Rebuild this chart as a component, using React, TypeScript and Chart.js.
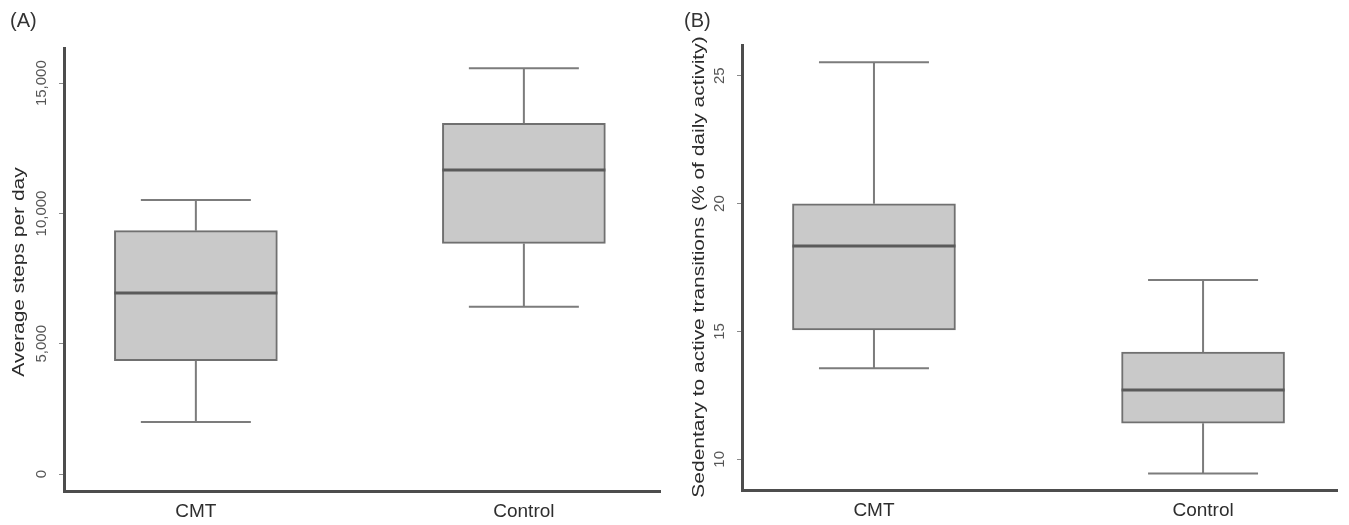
import React, { useEffect, useRef } from 'react';
import { Chart, registerables } from 'chart.js';

Chart.register(...registerables);

// ---------- data ----------
const categories = ['CMT', 'Control'];
const categoryPositions = [1, 2];

// Panel A: average steps per day
const stepsMin = [2000, 6420];
const stepsQ1 = [4350, 8850];
const stepsMedian = [6950, 11670];
const stepsQ3 = [9340, 13460];
const stepsMax = [10520, 15570];
const stepsTicks = [0, 5000, 10000, 15000];
const stepsTickLabels = ['0', '5,000', '10,000', '15,000'];

// Panel B: sedentary to active transitions (%)
const transMin = [13.56, 9.45];
const transQ1 = [15.06, 11.41];
const transMedian = [18.34, 12.71];
const transQ3 = [19.99, 14.19];
const transMax = [25.53, 17.01];
const transTicks = [10, 15, 20, 25];
const transTickLabels = ['10', '15', '20', '25'];

// ---------- styles ----------
const FONT = '"Liberation Sans", Arial, sans-serif';
const BOX_FILL = '#c9c9c9';
const BOX_BORDER = '#707070';
const MEDIAN_COLOR = '#5a5a5a';
const WHISKER_COLOR = '#7c7c7c';
const AXIS_COLOR = '#4d4d4d';
const BOX_PX = 163;
const CAP_HALF_PX = 55;
const TITLE_STRETCH = 1.31;

const whiskerPlugin = {
  id: 'boxWhiskers',
  afterDatasetsDraw(chart: any, _args: any, opts: any) {
    const { ctx, scales } = chart;
    const x = scales.x;
    const y = scales.y;
    if (!opts || !opts.mins) return;
    ctx.save();
    ctx.lineCap = 'butt';
    for (let i = 0; i < opts.positions.length; i++) {
      const cx = x.getPixelForValue(opts.positions[i]);
      const yMin = y.getPixelForValue(opts.mins[i]);
      const yQ1 = y.getPixelForValue(opts.q1s[i]);
      const yMed = y.getPixelForValue(opts.medians[i]);
      const yQ3 = y.getPixelForValue(opts.q3s[i]);
      const yMax = y.getPixelForValue(opts.maxs[i]);
      ctx.strokeStyle = WHISKER_COLOR;
      ctx.lineWidth = 2;
      ctx.beginPath();
      ctx.moveTo(cx, yQ3);
      ctx.lineTo(cx, yMax);
      ctx.moveTo(cx, yQ1);
      ctx.lineTo(cx, yMin);
      ctx.moveTo(cx - CAP_HALF_PX, yMax);
      ctx.lineTo(cx + CAP_HALF_PX, yMax);
      ctx.moveTo(cx - CAP_HALF_PX, yMin);
      ctx.lineTo(cx + CAP_HALF_PX, yMin);
      ctx.stroke();
      ctx.strokeStyle = MEDIAN_COLOR;
      ctx.lineWidth = 3;
      ctx.beginPath();
      ctx.moveTo(cx - BOX_PX / 2, yMed);
      ctx.lineTo(cx + BOX_PX / 2, yMed);
      ctx.stroke();
    }
    ctx.restore();
  },
};

const yTitlePlugin = {
  id: 'yTitle',
  afterDraw(chart: any, _args: any, opts: any) {
    if (!opts || !opts.text) return;
    const { ctx } = chart;
    ctx.save();
    ctx.translate(opts.x, opts.y);
    ctx.rotate(-Math.PI / 2);
    ctx.scale(TITLE_STRETCH, 1);
    ctx.font = `16px ${FONT}`;
    ctx.fillStyle = '#2b2b2b';
    ctx.textAlign = 'center';
    ctx.textBaseline = 'middle';
    ctx.fillText(opts.text, 0, 0);
    ctx.restore();
  },
};

type PanelProps = {
  left: number;
  width: number;
  label: string;
  labelLeft: number;
  yTitle: string;
  titleX: number;
  titleY: number;
  mins: number[];
  q1s: number[];
  medians: number[];
  q3s: number[];
  maxs: number[];
  yMin: number;
  yMax: number;
  yTicks: number[];
  yTickLabels: string[];
  axisWidth: number;
  tickPadding: number;
  padTop: number;
  padRight: number;
  xAxisHeight: number;
  xMin: number;
  xMax: number;
};

function Panel(p: PanelProps) {
  const ref = useRef<HTMLCanvasElement | null>(null);
  useEffect(() => {
    if (!ref.current) return;
    const chart = new Chart(ref.current, {
      type: 'bar',
      data: {
        datasets: [
          {
            data: categoryPositions.map((pos, i) => ({ x: pos, y: [p.q1s[i], p.q3s[i]] })) as any,
            backgroundColor: BOX_FILL,
            borderColor: BOX_BORDER,
            borderWidth: 2,
            borderSkipped: false,
            barThickness: BOX_PX,
            grouped: false,
          } as any,
        ],
      },
      options: {
        animation: false,
        responsive: false,
        events: [],
        layout: { padding: { left: 0, top: p.padTop, right: p.padRight, bottom: 0 } },
        plugins: {
          legend: { display: false },
          tooltip: { enabled: false },
          boxWhiskers: {
            positions: categoryPositions,
            mins: p.mins,
            q1s: p.q1s,
            medians: p.medians,
            q3s: p.q3s,
            maxs: p.maxs,
          },
          yTitle: { text: p.yTitle, x: p.titleX, y: p.titleY },
        } as any,
        scales: {
          x: {
            type: 'linear',
            offset: false,
            min: p.xMin,
            max: p.xMax,
            afterBuildTicks: (scale: any) => {
              scale.ticks = categoryPositions.map((v) => ({ value: v }));
            },
            afterFit: (scale: any) => {
              scale.height = p.xAxisHeight;
            },
            ticks: {
              callback: (v: any) => categories[categoryPositions.indexOf(Number(v))] ?? '',
              font: { family: FONT, size: 19 },
              color: '#2e2e2e',
              padding: 9,
              maxRotation: 0,
              minRotation: 0,
            },
            grid: { display: true, offset: false, drawOnChartArea: false, drawTicks: false },
            border: { display: true, color: AXIS_COLOR, width: 3 },
          },
          y: {
            type: 'linear',
            min: p.yMin,
            max: p.yMax,
            afterBuildTicks: (scale: any) => {
              scale.ticks = p.yTicks.map((v) => ({ value: v }));
            },
            afterFit: (scale: any) => {
              scale.width = p.axisWidth;
            },
            ticks: {
              callback: (v: any) => p.yTickLabels[p.yTicks.indexOf(Number(v))] ?? '',
              font: { family: FONT, size: 15 },
              color: '#555555',
              minRotation: 90,
              maxRotation: 90,
              crossAlign: 'center',
              padding: p.tickPadding,
            },
            grid: {
              display: true,
              drawOnChartArea: false,
              drawTicks: true,
              tickLength: 5,
              color: '#8a8a8a',
              lineWidth: 1,
            },
            border: { display: true, color: AXIS_COLOR, width: 3 },
          },
        },
      } as any,
      plugins: [whiskerPlugin, yTitlePlugin],
    });
    return () => chart.destroy();
  }, []);

  return (
    <div style={{ position: 'absolute', left: p.left, top: 0, width: p.width, height: 525 }}>
      <canvas ref={ref} width={p.width} height={525} style={{ width: p.width, height: 525, display: 'block' }} />
      <div
        style={{
          position: 'absolute',
          left: p.labelLeft,
          top: 9,
          font: `20px ${FONT}`,
          lineHeight: '22px',
          color: '#333',
        }}
      >
        {p.label}
      </div>
    </div>
  );
}

export default function App() {
  return (
    <div style={{ position: 'absolute', left: 0, top: 0, width: 1349, height: 525, background: '#fff', overflow: 'hidden' }}>
      <Panel
        left={0}
        width={670}
        label="(A)"
        labelLeft={10}
        yTitle="Average steps per day"
        titleX={20}
        titleY={272}
        mins={stepsMin}
        q1s={stepsQ1}
        medians={stepsMedian}
        q3s={stepsQ3}
        maxs={stepsMax}
        yMin={-650}
        yMax={16350}
        yTicks={stepsTicks}
        yTickLabels={stepsTickLabels}
        axisWidth={64}
        tickPadding={-6}
        padTop={48}
        padRight={10}
        xAxisHeight={34}
        xMin={0.598}
        xMax={2.415}
      />
      <Panel
        left={670}
        width={679}
        label="(B)"
        labelLeft={14}
        yTitle="Sedentary to active transitions (% of daily activity)"
        titleX={30}
        titleY={267}
        mins={transMin}
        q1s={transQ1}
        medians={transMedian}
        q3s={transQ3}
        maxs={transMax}
        yMin={8.8}
        yMax={26.2}
        yTicks={transTicks}
        yTickLabels={transTickLabels}
        axisWidth={72}
        tickPadding={9}
        padTop={45}
        padRight={12}
        xAxisHeight={35}
        xMin={0.599}
        xMax={2.407}
      />
    </div>
  );
}
